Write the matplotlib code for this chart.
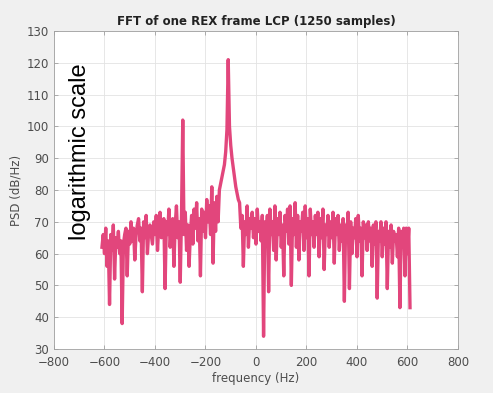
import numpy as np
import matplotlib
matplotlib.use("Agg")
import matplotlib.pyplot as plt

# PSD values (dB/Hz), one value every 5 Hz from -610 to 610 Hz
psd = [
    62, 66, 60, 68, 56, 64, 44, 66, 61, 69,   # -610 .. -565
    52, 65, 62, 67, 60, 64, 38, 63, 66, 68,   # -560 .. -515
    53, 67, 63, 70, 64, 68, 58, 66, 69, 71,   # -510 .. -465
    64, 68, 48, 70, 65, 72, 60, 67, 69, 66,   # -460 .. -415
    63, 70, 66, 72, 61, 69, 73, 65, 68, 71,   # -410 .. -365
    49, 70, 66, 74, 62, 68, 71, 56, 69, 75,   # -360 .. -315
    65, 70, 51, 72, 102, 66, 73, 61, 69, 56,  # -310 .. -265
    66, 72, 63, 74, 68, 76, 64, 71, 53, 74,   # -260 .. -215
    67, 73, 65, 77, 70, 75, 66, 81, 57, 76,   # -210 .. -165
    67, 78, 70, 80, 82, 84, 86, 88, 92, 99,   # -160 .. -115
    121, 100, 94, 90, 87, 84, 81, 79, 77, 76, # -110 .. -65
    68, 72, 56, 70, 66, 75, 62, 71, 68, 73,   # -60 .. -15
    65, 71, 63, 74, 67, 70, 64, 72, 34, 70,   # -10 .. 35
    64, 72, 48, 74, 66, 70, 61, 75, 58, 71,   # 40 .. 85
    66, 73, 62, 69, 53, 72, 67, 74, 63, 75,   # 90 .. 135
    50, 71, 66, 76, 62, 72, 58, 70, 67, 73,   # 140 .. 185
    61, 75, 65, 71, 53, 74, 66, 70, 62, 72,   # 190 .. 235
    66, 73, 59, 71, 65, 74, 55, 69, 66, 72,   # 240 .. 285
    62, 70, 65, 73, 57, 71, 66, 72, 61, 69,   # 290 .. 335
    64, 71, 45, 69, 65, 73, 49, 70, 60, 68,   # 340 .. 385
    65, 71, 59, 72, 64, 68, 53, 70, 65, 69,   # 390 .. 435
    61, 70, 64, 68, 56, 69, 63, 70, 46, 67,   # 440 .. 485
    64, 70, 59, 68, 63, 70, 49, 67, 62, 69,   # 490 .. 535
    57, 67, 64, 66, 59, 68, 43, 67, 62, 68,   # 540 .. 585
    53, 68, 60, 68, 43,                       # 590 .. 610
]
f_start, f_stop = -610, 610
freq = np.linspace(f_start, f_stop, len(psd))

x_ticks = [-800, -600, -400, -200, 0, 200, 400, 600, 800]
y_ticks = [30, 40, 50, 60, 70, 80, 90, 100, 110, 120, 130]

fig = plt.figure(figsize=(4.93, 3.93), dpi=100, facecolor="#f0f0f0")
ax = fig.add_axes([0.1095, 0.112, 0.8195, 0.809])
ax.set_facecolor("white")
ax.plot(freq, psd, color="#e2467c", lw=2.4, solid_joinstyle="round")

ax.set_xlim(-800, 800)
ax.set_ylim(30, 130)
ax.set_xticks(x_ticks)
ax.set_yticks(y_ticks)
ax.grid(True, color="#e3e3e3", lw=0.6)
ax.set_axisbelow(True)
for s in ax.spines.values():
    s.set_color("#a0a0a0")
    s.set_linewidth(0.6)
ax.tick_params(direction="in", length=3, width=0.6, colors="#a0a0a0",
               labelcolor="#4d4d4d", labelsize=8.5, top=True, right=True)
ax.tick_params(axis="x", pad=5)
ax.set_xlabel("frequency (Hz)", fontsize=8.5, color="#4d4d4d", labelpad=2)
ax.set_ylabel("PSD (dB/Hz)", fontsize=8.5, color="#4d4d4d", labelpad=3)
ax.set_title("FFT of one REX frame LCP (1250 samples)", fontsize=8.5,
             fontweight="bold", color="#222222", pad=4)

fig.text(0.162, 0.615, "logarithmic scale", rotation=90, fontsize=17,
         family="Liberation Sans", ha="center", va="center", color="black")

fig.savefig("out.png", dpi=100, facecolor=fig.get_facecolor())
